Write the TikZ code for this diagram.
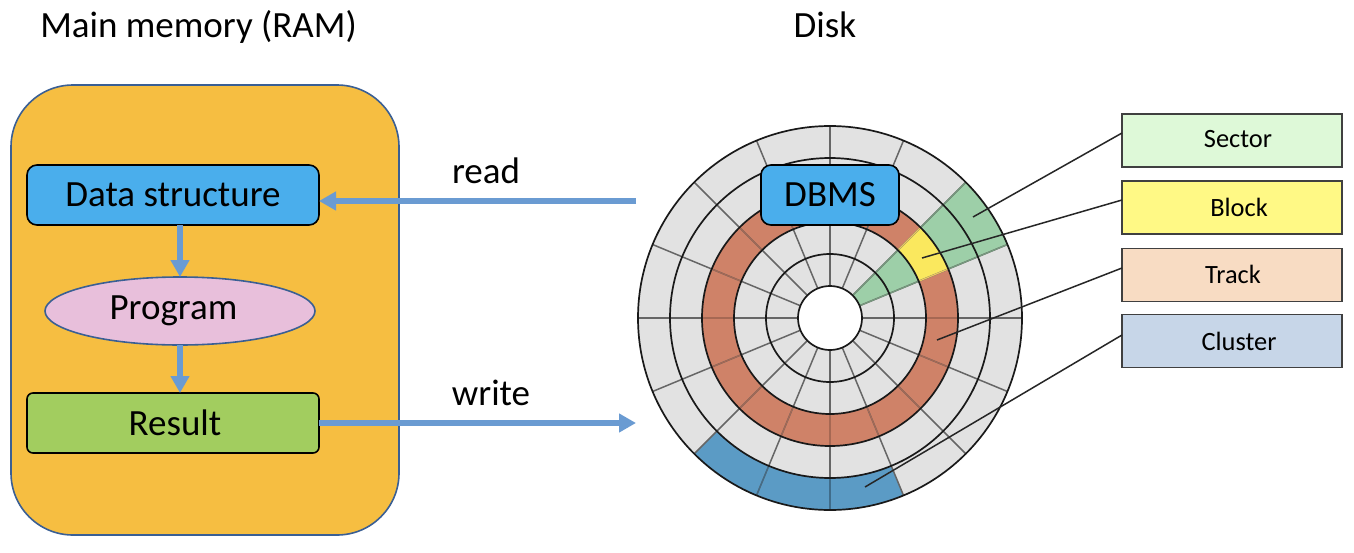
\documentclass[tikz,border=0pt]{standalone}
\usepackage{fontspec}
\setmainfont{Carlito}
\usetikzlibrary{arrows.meta,shapes.geometric}
\definecolor{memfill}{HTML}{F6BE41}
\definecolor{memline}{HTML}{3A5F94}
\definecolor{bluebox}{HTML}{4AAEEC}
\definecolor{pinkfill}{HTML}{E8BFDB}
\definecolor{greenbox}{HTML}{A2CD5F}
\definecolor{arrowblue}{HTML}{6A9BD2}
\definecolor{diskgray}{HTML}{E2E2E2}
\definecolor{trackc}{HTML}{CF8268}
\definecolor{sectorc}{HTML}{9DCFA8}
\definecolor{blockc}{HTML}{FAE85E}
\definecolor{clusterc}{HTML}{5B9BC5}
\definecolor{sectorbox}{HTML}{DEF9D8}
\definecolor{blockbox}{HTML}{FFF985}
\definecolor{trackbox}{HTML}{F8DCC3}
\definecolor{clusterbox}{HTML}{C7D6E8}
\tikzset{
  big/.style={font=\fontsize{37}{44}\selectfont,text=black},
  small/.style={font=\fontsize{26.4}{31}\selectfont,text=black},
  procbox/.style={draw=black,line width=1.6pt,rounded corners=10pt,minimum width=292pt,minimum height=60pt,inner sep=0pt,outer sep=0pt,big},
  legendbox/.style={draw=black!75,line width=1.6pt,minimum width=220pt,minimum height=53pt,inner sep=0pt,outer sep=0pt,small},
  flow/.style={draw=arrowblue,line width=6pt,-{Triangle[length=17pt,width=18pt]}},
  leader/.style={draw=black!85,line width=1.5pt},
  ringline/.style={draw=black!90,line width=1.7pt},
  spoke/.style={draw=black!60,line width=1.5pt},
}
\newcommand{\annulus}[5]{\fill[#1] (#2:#4) arc[start angle=#2,end angle=#3,radius=#4] -- (#3:#5) arc[start angle=#3,end angle=#2,radius=#5] -- cycle;}
\begin{document}
\begin{tikzpicture}[x=1pt,y=-1pt]
\useasboundingbox (0,0) rectangle (1354,552);
\fill[white] (0,0) rectangle (1354,552);
% titles
\node[big,anchor=center] (ttlmem) at (198.5,27) {Main memory (RAM)};
\node[big,anchor=center] (ttldisk) at (825,25) {Disk};
% memory
\node[draw=memline,fill=memfill,line width=1.6pt,rounded corners=62pt,minimum width=388pt,minimum height=450pt,inner sep=0pt,outer sep=0pt] (mem) at (205,310) {};
\node[procbox,fill=bluebox] (data) at (173,195) {Data structure};
\node[draw=memline,fill=pinkfill,ellipse,line width=1.6pt,minimum width=270pt,minimum height=68pt,inner sep=0pt,outer sep=0pt,big] (prog) at (180,311) {Program\hspace*{13pt}};
\node[procbox,fill=greenbox,rounded corners=6pt] (result) at (173,423) {\hspace*{4pt}Result};
% disk
\begin{scope}[shift={(830,318)},y=1pt]
  \fill[diskgray] (0,0) circle[radius=192];
  \annulus{trackc}{0}{360}{96}{128}
  \annulus{sectorc}{22.5}{45}{32}{192}
  \annulus{blockc}{22.5}{45}{96}{128}
  \annulus{clusterc}{-135}{-67.5}{160}{192}
  \foreach \a in {0,22.5,...,337.5}{
    \draw[spoke] (\a:32) -- (\a:192);
  }
  \foreach \a in {22.5,45}{
    \draw[draw=sectorc!75!black,line width=1.2pt] (\a:32) -- (\a:96);
    \draw[draw=sectorc!75!black,line width=1.2pt] (\a:128) -- (\a:192);
    \draw[draw=blockc!70!trackc,line width=1.2pt] (\a:96) -- (\a:128);
  }
  \foreach \a in {0,-22.5,-45,-67.5,-90,-112.5,-135,-157.5,180,157.5,135,112.5}{
    \draw[draw=trackc!80!black,line width=1.2pt] (\a:96) -- (\a:128);
  }
  \foreach \a in {-90,-112.5}{
    \draw[draw=clusterc!70!black,line width=1.2pt] (\a:160) -- (\a:192);
  }
  \fill[white] (0,0) circle[radius=32];
  \foreach \r in {32,64,96,128,160,192}{
    \draw[ringline] (0,0) circle[radius=\r];
  }
\end{scope}
\node[procbox,fill=bluebox,minimum width=138pt] (dbms) at (830,195) {DBMS};
% legend
\node[legendbox,fill=sectorbox] (sector) at (1232,140.5) {\raisebox{2.5pt}{\hspace*{12pt}Sector}};
\node[legendbox,fill=blockbox] (block) at (1232,207.5) {\hspace*{14pt}Block};
\node[legendbox,fill=trackbox] (track) at (1232,275) {\raisebox{1.5pt}{\hspace*{2pt}Track}};
\node[legendbox,fill=clusterbox] (cluster) at (1232,341) {\hspace*{14pt}Cluster};
% connectors
\coordinate (rd) at (636,201);
\coordinate (wr) at (636,423);
\draw[flow] (rd) -- (rd -| data.east);
\draw[flow] (result.east) -- (wr);
\draw[flow] (prog.north |- data.south) -- (prog.north);
\draw[flow] (prog.south) -- (prog.south |- result.north);
\node[big,anchor=center] (lread) at (486,171) {read};
\node[big,anchor=center] (lwrite) at (491,393) {write};
% leaders
\coordinate (psector) at (973,217);
\coordinate (pblock) at (922,258);
\coordinate (ptrack) at (937,340);
\coordinate (pcluster) at (865,487);
\draw[leader] (sector.west |- 0,133) -- (psector);
\draw[leader] (block.west |- 0,200) -- (pblock);
\draw[leader] (track.west |- 0,268) -- (ptrack);
\draw[leader] (cluster.west |- 0,335) -- (pcluster);
\end{tikzpicture}
\end{document}
